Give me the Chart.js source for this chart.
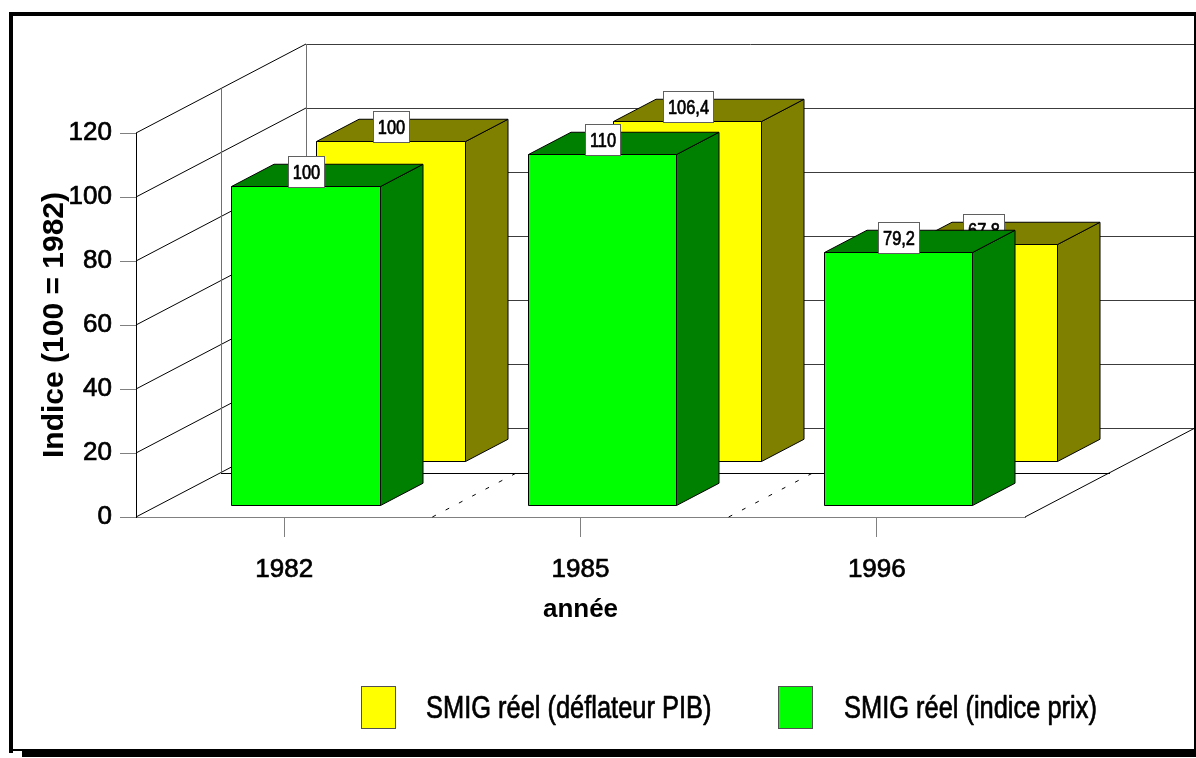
<!DOCTYPE html>
<html>
<head>
<meta charset="utf-8">
<title>SMIG réel</title>
<style>
  html, body { margin: 0; padding: 0; background: #ffffff; }
  canvas { display: block; }
</style>
<script src="https://cdn.jsdelivr.net/npm/chart.js@4/dist/chart.umd.min.js"></script>
</head>
<body>
<canvas id="chart" width="1196" height="758"></canvas>
<script>
// ---- data ----
const categories = ['1982', '1985', '1996'];
const deflateurPIB = [100, 106.4, 67.8];
const indicePrix = [100, 110, 79.2];
const seriesNames = ['SMIG réel (déflateur PIB)', 'SMIG réel (indice prix)'];
const yMin = 0, yMax = 120, yStep = 20;
const xTitle = 'année';
const yTitle = 'Indice (100 = 1982)';

// ---- styles ----
const faceColors = ['#ffff00', '#00ff00'];   // front faces
const shadeColors = ['#808000', '#008000'];  // top and side faces
const DEPTH_X = 170, DEPTH_Y = -89;          // full depth of the 3-D box, in pixels
// depth slot [front, back] of each series, as a fraction of the full depth
const depthSlots = [[0.625, 0.875], [0.125, 0.375]];
const TEXT_STROKE = 0.7;

function fontAvailable(name) {
  const c = document.createElement('canvas').getContext('2d');
  const probe = 'SMIG réel 0123456789';
  c.font = '40px monospace';
  const base = c.measureText(probe).width;
  c.font = '40px "' + name + '", monospace';
  return Math.abs(c.measureText(probe).width - base) > 0.5;
}
const NARROW = fontAvailable('Liberation Sans Narrow') ? '"Liberation Sans Narrow"' : null;
const AXIS_FAMILY = NARROW || 'Arial, "Liberation Sans", sans-serif';
const AXIS_SIZE = NARROW ? 31 : 26;
const SQUEEZE = 0.82;

function narrowText(ctx, text, x, y, size, align) {
  ctx.save();
  ctx.fillStyle = '#000';
  ctx.strokeStyle = '#000';
  ctx.lineWidth = TEXT_STROKE;
  ctx.lineJoin = 'round';
  ctx.textAlign = align;
  ctx.textBaseline = 'middle';
  if (NARROW) {
    ctx.font = size + 'px ' + NARROW;
  } else {
    ctx.translate(x, y);
    ctx.scale(SQUEEZE, 1);
    x = 0; y = 0;
    ctx.font = size + 'px Arial, "Liberation Sans", sans-serif';
  }
  ctx.fillText(text, x, y);
  ctx.strokeText(text, x, y);
  ctx.restore();
}
function narrowWidth(ctx, text, size) {
  ctx.save();
  let w;
  if (NARROW) {
    ctx.font = size + 'px ' + NARROW;
    w = ctx.measureText(text).width;
  } else {
    ctx.font = size + 'px Arial, "Liberation Sans", sans-serif';
    w = ctx.measureText(text).width * SQUEEZE;
  }
  ctx.restore();
  return w;
}

const formatValue = v => v.toLocaleString('fr-FR');
const crisp = v => Math.round(v) + 0.5;

function line(ctx, x1, y1, x2, y2) {
  ctx.beginPath();
  ctx.moveTo(x1, y1);
  ctx.lineTo(x2, y2);
  ctx.stroke();
}
function poly(ctx, pts, fill) {
  ctx.beginPath();
  pts.forEach(([px, py], i) => (i ? ctx.lineTo(px, py) : ctx.moveTo(px, py)));
  ctx.closePath();
  ctx.fillStyle = fill;
  ctx.fill();
  ctx.stroke();
}
function drawBox(ctx, L, R, T, B, z0, z1, face, shade) {
  const ax = z0 * DEPTH_X, ay = z0 * DEPTH_Y, bx = z1 * DEPTH_X, by = z1 * DEPTH_Y;
  const l = crisp(L + ax), r = crisp(R + ax), t = crisp(T + ay), b = crisp(B + ay);
  const dx = bx - ax, dy = by - ay;
  ctx.strokeStyle = '#000';
  ctx.lineWidth = 1;
  poly(ctx, [[r, t], [r + dx, t + dy], [r + dx, b + dy], [r, b]], shade);
  poly(ctx, [[l, t], [r, t], [r + dx, t + dy], [l + dx, t + dy]], shade);
  poly(ctx, [[l, t], [r, t], [r, b], [l, b]], face);
  return { cx: (l + r) / 2, top: t };
}
function valueLabel(ctx, text, cx, bottom) {
  const size = 20;
  const w = Math.round(narrowWidth(ctx, text, size)) + 9;
  const h = 31;
  const x = Math.round(cx - w / 2) + 0.5;
  const y = Math.round(bottom - h) + 0.5;
  ctx.fillStyle = '#ffffff';
  ctx.strokeStyle = '#606060';
  ctx.lineWidth = 1;
  ctx.fillRect(x, y, w, h);
  ctx.strokeRect(x, y, w, h);
  narrowText(ctx, text, x + w / 2, y + h / 2 + 1, size, 'center');
}

const box3d = {
  id: 'box3d',
  beforeDraw(chart) {
    const ctx = chart.ctx;
    ctx.save();
    ctx.fillStyle = '#ffffff';
    ctx.fillRect(0, 0, chart.width, chart.height);
    ctx.restore();
  },
  beforeDatasetsDraw(chart) {
    const ctx = chart.ctx;
    const { left, right } = chart.chartArea;
    const xs = chart.scales.x, ys = chart.scales.y;
    const y0 = ys.getPixelForValue(yMin);
    const yT = ys.getPixelForValue(yMax);
    ctx.save();
    ctx.lineWidth = 1;

    // side wall and back wall grid
    ys.ticks.forEach(t => {
      const py = ys.getPixelForValue(t.value);
      ctx.strokeStyle = '#000';
      line(ctx, left, py, left + DEPTH_X, py + DEPTH_Y);
      ctx.strokeStyle = '#3c3c3c';
      line(ctx, left + DEPTH_X, crisp(py + DEPTH_Y), right + DEPTH_X, crisp(py + DEPTH_Y));
    });
    ctx.strokeStyle = '#707070';
    line(ctx, crisp(left + DEPTH_X), yT + DEPTH_Y, crisp(left + DEPTH_X), y0 + DEPTH_Y);
    line(ctx, crisp(right + DEPTH_X) - 1, yT + DEPTH_Y, crisp(right + DEPTH_X) - 1, y0 + DEPTH_Y);
    // middle plane between the two rows
    line(ctx, crisp(left + DEPTH_X / 2), yT + DEPTH_Y / 2, crisp(left + DEPTH_X / 2), y0 + DEPTH_Y / 2);
    ctx.strokeStyle = '#000';
    line(ctx, left + DEPTH_X / 2, crisp(y0 + DEPTH_Y / 2), right + DEPTH_X / 2, crisp(y0 + DEPTH_Y / 2));
    // floor, right edge
    line(ctx, right, y0, right + DEPTH_X, y0 + DEPTH_Y);
    // dotted separators between categories
    ctx.setLineDash([4, 11]);
    for (let i = 0; i < categories.length - 1; i++) {
      const bx = (xs.getPixelForValue(i) + xs.getPixelForValue(i + 1)) / 2;
      line(ctx, bx, y0, bx + DEPTH_X / 2, y0 + DEPTH_Y / 2);
    }
    ctx.setLineDash([]);

    // bars, back row first, each row followed by its value labels
    chart.data.datasets.forEach((ds, di) => {
      const meta = chart.getDatasetMeta(di);
      const [z0, z1] = depthSlots[di];
      const tops = meta.data.map(bar => {
        const p = bar.getProps(['x', 'y', 'base', 'width'], true);
        return drawBox(ctx, p.x - p.width / 2, p.x + p.width / 2, p.y, p.base, z0, z1,
          faceColors[di], shadeColors[di]);
      });
      tops.forEach((t, i) => valueLabel(ctx, formatValue(ds.data[i]), t.cx, t.top));
    });
    ctx.restore();
    return false;
  },
  afterDraw(chart) {
    const ctx = chart.ctx;
    ctx.save();
    // legend
    const items = [
      { sx: 361, tx: 426 },
      { sx: 778, tx: 844 }
    ];
    items.forEach((it, i) => {
      ctx.fillStyle = faceColors[i];
      ctx.strokeStyle = '#505050';
      ctx.lineWidth = 1;
      ctx.fillRect(it.sx + 0.5, 686.5, 34, 42);
      ctx.strokeRect(it.sx + 0.5, 686.5, 34, 42);
      narrowText(ctx, seriesNames[i], it.tx, 709, 31, 'left');
    });
    // frame with drop shadow
    ctx.fillStyle = '#000';
    ctx.fillRect(9, 12, chart.width - 9, 4);
    ctx.fillRect(9, 12, 4, 741);
    ctx.fillRect(9, 749, chart.width - 9, 2);
    ctx.fillRect(22, 751, chart.width - 22, 6);
    ctx.fillRect(chart.width - 2, 12, 2, 741);
    ctx.restore();
  }
};

const axisFont = { family: AXIS_FAMILY, size: AXIS_SIZE };
const titleFont = { family: AXIS_FAMILY, size: AXIS_SIZE, weight: 'bold' };

new Chart(document.getElementById('chart'), {
  type: 'bar',
  data: {
    labels: categories,
    datasets: [
      { label: seriesNames[0], data: deflateurPIB, backgroundColor: faceColors[0], grouped: false },
      { label: seriesNames[1], data: indicePrix, backgroundColor: faceColors[1], grouped: false }
    ]
  },
  options: {
    responsive: false,
    animation: false,
    devicePixelRatio: 1,
    categoryPercentage: 1,
    barPercentage: 0.5,
    layout: { padding: { left: 0, right: 171, top: 133, bottom: 0 } },
    plugins: { legend: { display: false }, tooltip: { enabled: false } },
    events: [],
    scales: {
      x: {
        offset: true,
        grid: { drawOnChartArea: false, drawTicks: true, tickLength: 20, offset: false, color: '#808080' },
        border: { display: true, color: '#808080' },
        ticks: {
          color: '#000', font: axisFont, padding: 17, maxRotation: 0,
          textStrokeColor: '#000', textStrokeWidth: TEXT_STROKE
        },
        title: { display: true, text: xTitle, color: '#000', font: titleFont, padding: { top: 0, bottom: 133 } },
        afterFit(scale) { scale.height = 241; }
      },
      y: {
        min: yMin,
        max: yMax,
        ticks: {
          stepSize: yStep, color: '#000', font: axisFont, padding: 8,
          textStrokeColor: '#000', textStrokeWidth: TEXT_STROKE
        },
        grid: { drawOnChartArea: false, drawTicks: true, tickLength: 16, color: '#808080' },
        border: { display: true, color: '#000' },
        title: {
          display: true, text: yTitle, color: '#000',
          font: { family: 'Arial, "Liberation Sans", sans-serif', size: 30, weight: 'bold' },
          padding: { top: 37, bottom: 0 }
        },
        afterFit(scale) { scale.width = 136; }
      }
    }
  },
  plugins: [box3d]
});
</script>
</body>
</html>
